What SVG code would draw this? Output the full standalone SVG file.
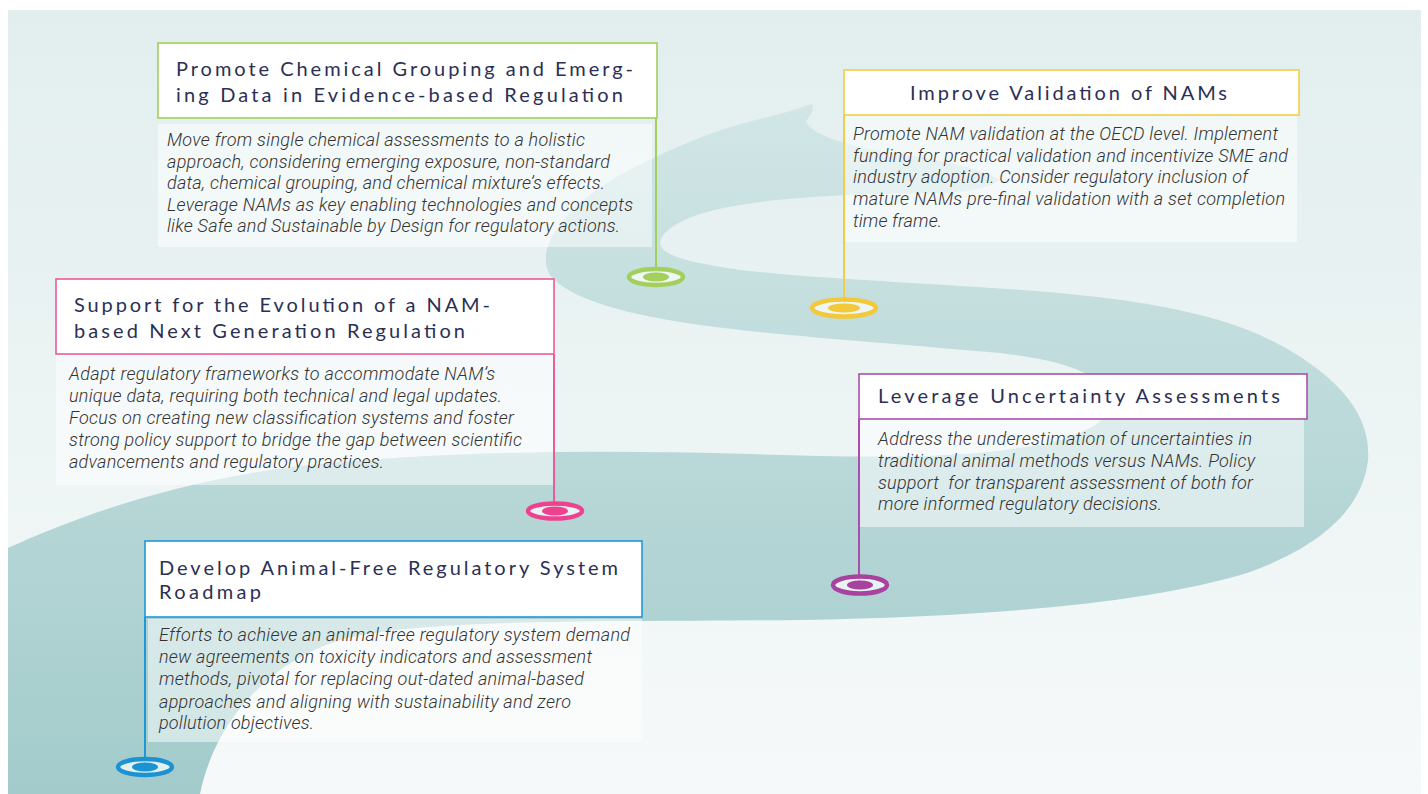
<svg xmlns="http://www.w3.org/2000/svg" width="1428" height="794" viewBox="0 0 1428 794">
  <defs>
    <linearGradient id="bg" x1="0" y1="10" x2="0" y2="794" gradientUnits="userSpaceOnUse">
      <stop offset="0" stop-color="#e2eeee"/>
      <stop offset="1" stop-color="#f6f9f9"/>
    </linearGradient>
    <linearGradient id="road" x1="0" y1="100" x2="0" y2="794" gradientUnits="userSpaceOnUse">
      <stop offset="0" stop-color="#d2e6e6"/>
      <stop offset="1" stop-color="#a3cbcb"/>
    </linearGradient>
    <style>
      .title { font-family: "Lato", "Noto Sans", sans-serif; font-size: 20px; fill: #2b2f55; }
      .desc { font-family: Roboto, "Liberation Sans", sans-serif; font-size: 18px; font-style: italic; font-weight: 300; fill: #333333; }
      .tbox { fill: #ffffff; stroke-width: 1.6; }
      .dbox { fill: #ffffff; fill-opacity: 0.5; }
      .pinline { stroke-width: 2; fill: none; }
      .ring { fill: #ffffff; fill-opacity: 0.7; stroke-width: 4.5; }
    </style>
  </defs>

  <rect x="0" y="0" width="1428" height="794" fill="#ffffff"/>
  <rect x="8" y="10" width="1413" height="784" fill="url(#bg)"/>

  <path id="road-shape" fill="url(#road)" d="M 812 104
    C 815 112, 808 118, 806 121
    C 810 135, 850 147, 900 154
    C 940 160, 980 168, 1000 180
    C 985 190, 960 193, 930 193
    C 860 194, 760 196, 700 214
    C 670 224, 655 238, 662 248
    C 670 258, 700 264, 740 270
    C 800 277, 880 281, 960 286
    C 1060 292, 1180 300, 1260 335
    C 1330 368, 1372 410, 1368 460
    C 1362 515, 1310 550, 1250 572
    C 1150 603, 1000 616, 800 620
    C 600 622, 420 618, 340 640
    C 270 662, 215 720, 200 794
    L 8 794 L 8 548
    C 80 515, 180 480, 300 466
    C 450 450, 600 450, 750 454
    C 870 458, 980 460, 1060 440
    C 1100 428, 1120 410, 1108 392
    C 1095 372, 1060 360, 1000 353
    C 900 344, 780 336, 700 325
    C 630 315, 570 300, 550 275
    C 535 250, 560 210, 620 175
    C 670 148, 720 128, 760 119
    C 785 113, 800 108, 812 104 Z"/>

  <g id="node-grouping">
    <rect class="dbox" x="158" y="124" width="494" height="123"/>
    <rect class="tbox" x="158" y="43" width="499" height="75" stroke="#a3cf5c"/>
    <text class="title" x="176" y="76" textLength="457" lengthAdjust="spacing">Promote Chemical Grouping and Emerg-</text>
    <text class="title" x="176" y="102" textLength="447" lengthAdjust="spacing">ing Data in Evidence-based Regulation</text>
    <text class="desc" x="167" y="146" textLength="418" lengthAdjust="spacing">Move from single chemical assessments to a holistic</text>
    <text class="desc" x="167" y="167.5" textLength="443" lengthAdjust="spacing">approach, considering emerging exposure, non-standard</text>
    <text class="desc" x="167" y="189" textLength="438" lengthAdjust="spacing">data, chemical grouping, and chemical mixture’s effects.</text>
    <text class="desc" x="167" y="210.5" textLength="466" lengthAdjust="spacing">Leverage NAMs as key enabling technologies and concepts</text>
    <text class="desc" x="167" y="232" textLength="453" lengthAdjust="spacing">like Safe and Sustainable by Design for regulatory actions.</text>
  </g>

  <g id="node-validation">
    <rect class="dbox" x="844" y="116" width="453" height="126"/>
    <rect class="tbox" x="844" y="70" width="455" height="45" stroke="#f3cd48"/>
    <text class="title" x="910" y="100" textLength="317" lengthAdjust="spacing">Improve Validation of NAMs</text>
    <text class="desc" x="853" y="140" textLength="425" lengthAdjust="spacing">Promote NAM validation at the OECD level. Implement</text>
    <text class="desc" x="853" y="161.7" textLength="435" lengthAdjust="spacing">funding for practical validation and incentivize SME and</text>
    <text class="desc" x="853" y="183.3" textLength="395" lengthAdjust="spacing">industry adoption. Consider regulatory inclusion of</text>
    <text class="desc" x="853" y="205" textLength="432" lengthAdjust="spacing">mature NAMs pre-final validation with a set completion</text>
    <text class="desc" x="853" y="226.7" textLength="89" lengthAdjust="spacing">time frame.</text>
  </g>

  <g id="node-nextgen">
    <rect class="dbox" x="56" y="354" width="498" height="131"/>
    <rect class="tbox" x="56" y="279" width="498" height="75" stroke="#ec5a9a"/>
    <text class="title" x="74" y="312" textLength="416" lengthAdjust="spacing">Support for the Evolution of a NAM-</text>
    <text class="title" x="74" y="338" textLength="391" lengthAdjust="spacing">based Next Generation Regulation</text>
    <text class="desc" x="69" y="380" textLength="426" lengthAdjust="spacing">Adapt regulatory frameworks to accommodate NAM’s</text>
    <text class="desc" x="69" y="402" textLength="433" lengthAdjust="spacing">unique data, requiring both technical and legal updates.</text>
    <text class="desc" x="69" y="424" textLength="445" lengthAdjust="spacing">Focus on creating new classification systems and foster</text>
    <text class="desc" x="69" y="446" textLength="453" lengthAdjust="spacing">strong policy support to bridge the gap between scientific</text>
    <text class="desc" x="69" y="468" textLength="315" lengthAdjust="spacing">advancements and regulatory practices.</text>
  </g>

  <g id="node-uncertainty">
    <rect class="dbox" x="859" y="419" width="445" height="108"/>
    <rect class="tbox" x="859" y="374" width="448" height="45" stroke="#a94fab"/>
    <text class="title" x="878" y="403" textLength="402" lengthAdjust="spacing">Leverage Uncertainty Assessments</text>
    <text class="desc" x="878" y="445" textLength="374" lengthAdjust="spacing">Address the underestimation of uncertainties in</text>
    <text class="desc" x="878" y="467" textLength="377" lengthAdjust="spacing">traditional animal methods versus NAMs. Policy</text>
    <text class="desc" x="878" y="488.5" textLength="375" lengthAdjust="spacing" xml:space="preserve">support  for transparent assessment of both for</text>
    <text class="desc" x="878" y="510" textLength="284" lengthAdjust="spacing">more informed regulatory decisions.</text>
  </g>

  <g id="node-roadmap">
    <rect class="dbox" x="148" y="619" width="494" height="123"/>
    <rect class="tbox" x="145" y="541" width="497" height="76" stroke="#1e98d6"/>
    <text class="title" x="159" y="575" textLength="459" lengthAdjust="spacing">Develop Animal-Free Regulatory System</text>
    <text class="title" x="159" y="599" textLength="102" lengthAdjust="spacing">Roadmap</text>
    <text class="desc" x="159" y="641" textLength="471" lengthAdjust="spacing">Efforts to achieve an animal-free regulatory system demand</text>
    <text class="desc" x="159" y="663" textLength="433" lengthAdjust="spacing">new agreements on toxicity indicators and assessment</text>
    <text class="desc" x="159" y="685" textLength="425" lengthAdjust="spacing">methods, pivotal for replacing out-dated animal-based</text>
    <text class="desc" x="159" y="707.5" textLength="412" lengthAdjust="spacing">approaches and aligning with sustainability and zero</text>
    <text class="desc" x="159" y="729" textLength="155" lengthAdjust="spacing">pollution objectives.</text>
  </g>

  <g id="connectors">
    <g id="pin-grouping">
      <line class="pinline" x1="656" y1="118" x2="656" y2="273" stroke="#a3cf5c"/>
      <ellipse class="ring" cx="656" cy="277" rx="27" ry="8" stroke="#a3cf5c"/>
      <ellipse cx="656" cy="277" rx="13" ry="4.5" fill="#a3cf5c"/>
    </g>
    <g id="pin-validation">
      <line class="pinline" x1="844" y1="115" x2="844" y2="304" stroke="#f3cd48"/>
      <ellipse class="ring" cx="844" cy="308" rx="32" ry="8.5" stroke="#f3c93a"/>
      <ellipse cx="844" cy="308" rx="16" ry="4.5" fill="#f3c93a"/>
    </g>
    <g id="pin-nextgen">
      <line class="pinline" x1="554" y1="354" x2="554" y2="507" stroke="#ec5a9a"/>
      <ellipse class="ring" cx="555" cy="511" rx="27" ry="7.5" stroke="#ec4290"/>
      <ellipse cx="555" cy="511" rx="13" ry="4.5" fill="#ec4290"/>
    </g>
    <g id="pin-uncertainty">
      <line class="pinline" x1="859" y1="419" x2="859" y2="581" stroke="#a94fab"/>
      <ellipse class="ring" cx="860" cy="585" rx="27" ry="8.5" stroke="#a7429f"/>
      <ellipse cx="860" cy="585" rx="13" ry="4.5" fill="#a7429f"/>
    </g>
    <g id="pin-roadmap">
      <line class="pinline" x1="145" y1="617" x2="145" y2="763" stroke="#1e98d6"/>
      <ellipse class="ring" cx="145" cy="767" rx="27" ry="8" stroke="#1b93d3"/>
      <ellipse cx="145" cy="767" rx="13" ry="4.5" fill="#1b93d3"/>
    </g>
  </g>
</svg>
